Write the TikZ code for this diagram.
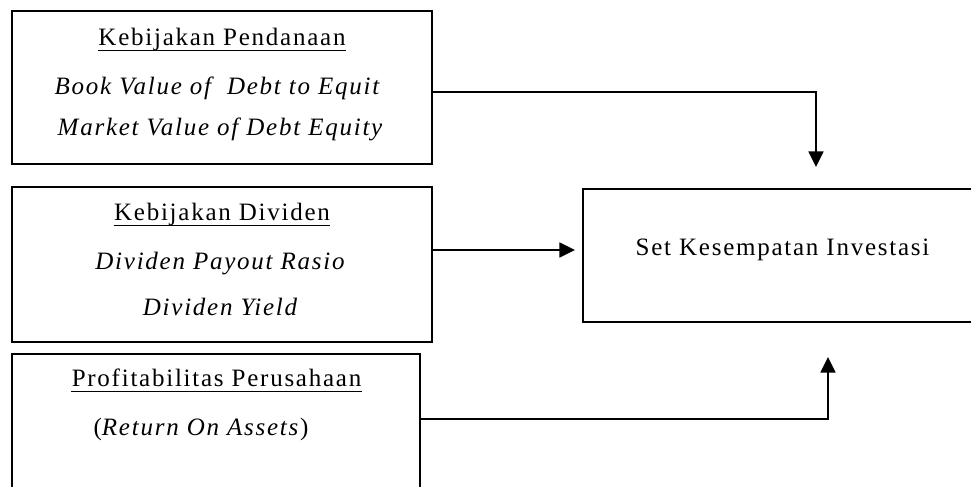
\documentclass[tikz,border=0pt]{standalone}
\usepackage{fontspec}
\setmainfont{Liberation Serif}[LetterSpace=7]
\usetikzlibrary{positioning, arrows.meta}

\begin{document}
\begin{tikzpicture}[x=0.5pt, y=-0.5pt,
  box/.style={draw, line width=1pt, inner sep=0pt},
  txt/.style={anchor=base, inner sep=0pt, font=\fontsize{12.5}{15}\selectfont},
  uline/.style={line width=0.6pt},
  arr/.style={line width=0.8pt, -{Triangle[length=7.8pt, width=7.5pt]}}]
\path[use as bounding box] (0,0) rectangle (971,487);
\clip (0,0) rectangle (971,487);
% boxes
\node[box, minimum width=210pt, minimum height=76.5pt] (pendanaan) at (222,87.5) {};
\node[box, minimum width=210pt, minimum height=77.5pt] (dividen) at (222,264.5) {};
\node[box, minimum width=204pt, minimum height=73pt] (profit) at (216,427) {};
\node[box, minimum width=201pt, minimum height=66.5pt] (ios) at (784,255.5) {};
% texts
\node[txt] (pendanaanT) at (222,45.7) {Kebijakan Pendanaan};
\node[txt] (bvde) at (217,94) {\itshape Book Value of\ \ Debt to Equit};
\node[txt] (mvde) at (220,135) {\itshape Market Value of Debt Equity};
\node[txt] (dividenT) at (222,220.7) {Kebijakan Dividen};
\node[txt] (dpr) at (220,269) {\itshape Dividen Payout Rasio};
\node[txt] (dy) at (220,315) {\itshape Dividen Yield};
\node[txt] (profitT) at (216.5,386.7) {Profitabilitas Perusahaan};
\node[txt] (roa) at (201,435) {(\textit{Return On Assets})};
\node[txt] (iosT) at (782.5,255) {Set Kesempatan Investasi};
% underlines
\foreach \t in {pendanaanT, dividenT, profitT}
  \draw[uline] ([yshift=-2.25pt]\t.base west) -- ([yshift=-2.25pt]\t.base east);
% connectors
\coordinate (tipA) at (816,167);
\coordinate (tipB) at (575,250);
\coordinate (bendC) at (828,419);
\coordinate (tipC) at (828,357);
\draw[arr] ([yshift=-2.25pt]pendanaan.east) -| (tipA);
\draw[arr] (dividen.east |- tipB) -- (tipB);
\draw[arr] (profit.east |- bendC) -- (bendC) -- (tipC);
\end{tikzpicture}
\end{document}
